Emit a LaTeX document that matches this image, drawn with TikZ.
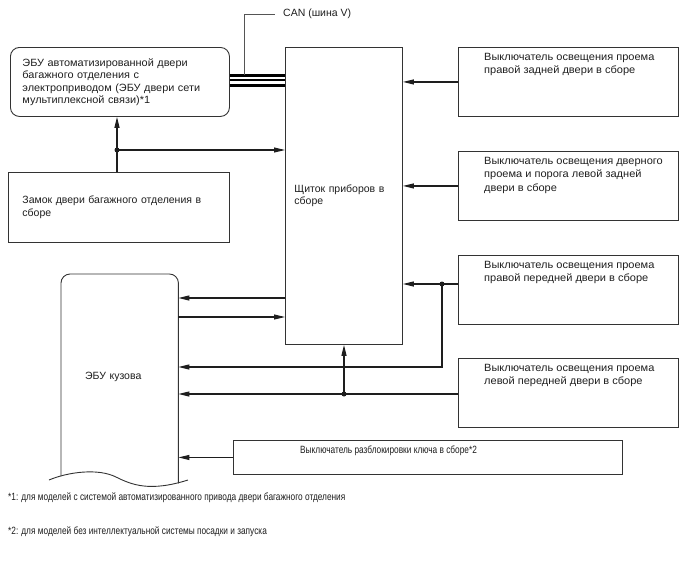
\documentclass[tikz,border=0pt]{standalone}
\usepackage{fontspec}
\setmainfont{Liberation Sans}
\newfontfamily\narrowfont[FakeStretch=0.79]{Liberation Sans}
\newfontfamily\widefont[FakeStretch=1.05]{Liberation Sans}
\newfontfamily\ecufont[FakeStretch=1.04]{Liberation Sans}
\usepackage{xcolor}
\usepackage{tikz}
\usetikzlibrary{arrows.meta,positioning,calc}
\definecolor{ink}{HTML}{1E1E1E}
\definecolor{edge}{HTML}{333333}
\definecolor{lead}{HTML}{555555}
\tikzset{
  box/.style={draw=edge,line width=0.9pt,rectangle,anchor=north west,inner sep=0pt,
    font=\fontsize{10.5}{12.5}\selectfont,text=ink},
  rbox/.style={box,rounded corners=9pt},
  txt/.style={inner sep=0pt,anchor=north west,align=left,
    font=\widefont\fontsize{10.5}{13.5}\selectfont,text=ink},
  flow/.style={-{Triangle[length=11pt,width=5pt]},line width=1.1pt,draw=ink},
  wire/.style={line width=1.1pt,draw=ink},
  bus/.style={line width=2.2pt,draw=black},
  canline/.style={line width=1pt,draw=lead},
  dot/.style={circle,fill=ink,inner sep=0pt,minimum size=5pt},
  note/.style={anchor=west,inner sep=0pt,font=\narrowfont\fontsize{10.5}{12}\selectfont,text=ink},
}

\begin{document}
\begin{tikzpicture}[x=1pt,y=-1pt]
  \useasboundingbox (0,0) rectangle (688,560);
  % --- left column ---
  \node[rbox,minimum width=219,minimum height=69,text width=195,align=left,
    font=\ecufont\fontsize{10.5}{12.5}\selectfont]
    (ecu) at (10,47) {ЭБУ автоматизированной двери\\ багажного отделения с\\
    электроприводом (ЭБУ двери сети\\ мультиплексной связи)*1};
  \node[box,minimum width=221,minimum height=70,text width=193,align=left]
    (lock) at (8,172) {Замок двери багажного отделения в\\ сборе};
  \node[box,minimum width=117,minimum height=297,text width=99,align=left]
    (panel) at (285,47) {Щиток приборов в\\ сборе};
  % body ECU (open bottom)
  \node[anchor=north west,minimum width=117,minimum height=205,inner sep=0pt,
    text width=117,align=left,font=\fontsize{10.5}{12.5}\selectfont,text=ink]
    (body) at (61,274) {\hspace*{24pt}ЭБУ кузова};
  \draw[draw=edge,line width=0.9pt,rounded corners=9pt]
    ($(body.south west)+(0,-3)$) -- (body.north west) -- (body.north east)
    -- ($(body.south east)+(0,4)$);
  \draw[draw=edge,line width=0.9pt] (49,480) .. controls (68,472) and (98,468) .. (116,477)
    .. controls (132,485) and (150,492) .. (188,480);
  % --- right column ---
  \node[box,minimum width=220,minimum height=69] (sw1) at (458,47) {};
  \node[box,minimum width=220,minimum height=69] (sw2) at (458,151) {};
  \node[box,minimum width=220,minimum height=69] (sw3) at (458,255) {};
  \node[box,minimum width=220,minimum height=69] (sw4) at (458,358) {};
  \node[box,minimum width=389,minimum height=34] (key) at (233,440) {};
  \node[txt] at ($(sw1.north west)+(26,6)$) {Выключатель освещения проема\\ правой задней двери в сборе};
  \node[txt] at ($(sw2.north west)+(26,6)$) {Выключатель освещения дверного\\ проема и порога левой задней\\ двери в сборе};
  \node[txt] at ($(sw3.north west)+(26,6)$) {Выключатель освещения проема\\ правой передней двери в сборе};
  \node[txt] at ($(sw4.north west)+(26,6)$) {Выключатель освещения проема\\ левой передней двери в сборе};
  \node[txt,font=\narrowfont\fontsize{10.5}{13}\selectfont] at ($(key.north west)+(67,6)$)
    {Выключатель разблокировки ключа в сборе*2};
  % --- CAN bus ---
  \foreach \y in {75.5,80,85.5} \draw[bus] (ecu.east |- 0,\y) -- (panel.west |- 0,\y);
  \node[txt,anchor=west,font=\fontsize{10.5}{13}\selectfont] (can) at (283,14) {CAN (шина V)};
  \draw[canline] (244,75) |- ($(can.west)+(-8,0)$);
  % --- junctions ---
  \coordinate (j1) at (117,150);
  \coordinate (j3) at (442,284);
  \coordinate (k3) at (442,367);
  \coordinate (j4) at (344,394);
  \draw[wire] (lock.north -| j1) -- (j1);
  \draw[flow] (j1) -- (ecu.south -| j1);
  \draw[flow] (j1) -- (j1 -| panel.west);
  \draw[flow] (sw1.west) -- (sw1.west -| panel.east);
  \draw[flow] (sw2.west) -- (sw2.west -| panel.east);
  \draw[flow] (j3 -| sw3.west) -- (j3 -| panel.east);
  \draw[flow] (j3) -- (k3) -- (k3 -| body.east);
  \draw[flow] (j4 -| sw4.west) -- (j4 -| body.east);
  \draw[flow] (j4) -- (j4 |- panel.south);
  \draw[flow] (panel.west |- 0,298) -- (body.east |- 0,298);
  \draw[flow] (body.east |- 0,317) -- (panel.west |- 0,317);
  \draw[flow] (key.west) -- (key.west -| body.east);
  \foreach \p in {j1,j3,j4} \node[dot] at (\p) {};
  % --- footnotes ---
  \node[note] (n1) at (8,498) {*1: для моделей с системой автоматизированного привода двери багажного отделения};
  \node[note] (n2) at (8,532) {*2: для моделей без интеллектуальной системы посадки и запуска};
\end{tikzpicture}
\end{document}
